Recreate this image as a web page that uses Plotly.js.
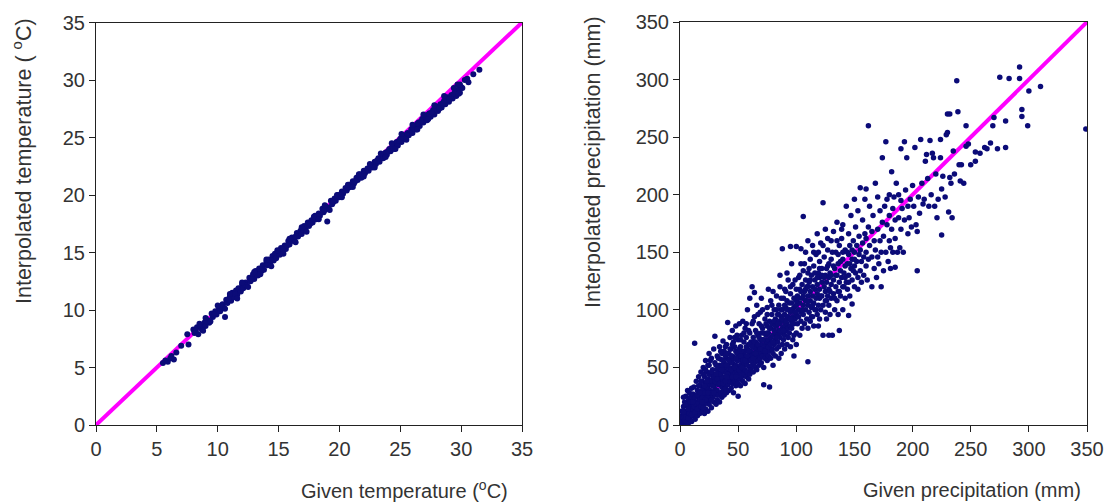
<!DOCTYPE html>
<html>
<head>
<meta charset="utf-8">
<script src="https://cdn.plot.ly/plotly-3.0.1.min.js"></script>
<style>html,body{margin:0;padding:0;background:#fff;}#chart{width:1109px;height:503px;}</style>
</head>
<body>
<div id="chart"></div>
<script>
// Axis ticks
const tempTicks = [0, 5, 10, 15, 20, 25, 30, 35];
const precipTicks = [0, 50, 100, 150, 200, 250, 300, 350];
const oneToOneTemp = [0, 35];
const oneToOnePrecip = [0, 350];

// Temperature: [given, interpolated] (°C)
const tempPairs = [
[5.5,5.4],[5.7,5.6],[5.9,5.5],[6.1,5.8],[6.2,6.0],[6.4,5.7],[6.6,6.3],[7.0,6.9],[7.5,7.9],[7.6,7.0],
[8.0,8.3],[8.1,8.0],[8.3,8.5],[8.4,7.9],[8.6,8.6],[8.7,8.3],[8.9,8.9],[9.0,8.6],[9.2,9.1],[9.3,8.9],
[9.5,9.7],[9.6,9.4],[9.8,9.9],[9.9,9.6],[10.1,10.2],[10.2,9.9],[10.4,10.5],[10.5,10.2],[10.6,9.4],[10.7,10.9],
[10.8,10.6],[11.0,11.2],[11.1,10.8],[11.2,11.5],[11.3,11.1],[11.5,11.7],[11.6,11.3],[11.7,11.9],[11.9,11.6],[12.0,12.2],
[12.1,11.9],[12.3,12.4],[12.4,12.1],[12.6,12.8],[12.7,12.5],[12.9,13.1],[13.0,12.7],[13.1,13.4],[13.3,13.0],[13.4,13.6],
[13.6,13.4],[13.7,13.9],[13.8,13.5],[14.0,14.2],[14.1,13.9],[14.2,14.4],[14.3,14.0],[14.5,14.7],[14.6,14.3],[14.7,14.9],
[14.8,14.5],[15.0,15.1],[15.1,14.8],[15.2,15.4],[15.4,15.2],[15.5,15.6],[15.6,15.3],[15.8,16.0],[15.9,15.7],[16.1,16.3],
[16.2,16.0],[16.3,16.1],[16.5,16.7],[16.6,16.4],[16.8,16.9],[16.9,16.6],[17.1,17.3],[17.2,17.0],[17.4,17.6],[17.5,17.3],
[17.7,17.8],[17.8,17.6],[18.0,18.2],[18.1,17.9],[18.3,18.4],[18.4,18.2],[18.6,18.8],[18.7,18.5],[18.9,19.0],[19.0,17.7],
[19.1,18.9],[19.3,19.5],[19.4,19.2],[19.6,19.7],[19.7,19.5],[19.9,20.0],[20.0,19.8],[20.2,20.3],[20.3,20.1],[20.5,20.6],
[20.6,20.4],[20.8,20.9],[20.9,20.7],[21.1,21.2],[21.2,21.0],[21.4,21.5],[21.5,21.3],[21.7,21.8],[21.8,21.5],[22.0,22.1],
[22.1,21.9],[22.3,22.3],[22.4,22.1],[22.6,22.6],[22.7,22.4],[22.9,22.9],[23.0,22.7],[23.2,23.2],[23.3,22.9],[23.5,23.5],
[23.6,23.2],[23.8,23.7],[23.9,23.5],[24.1,24.0],[24.2,23.8],[24.4,24.3],[24.5,24.0],[24.7,24.6],[24.8,24.3],[25.0,24.9],
[25.1,24.6],[25.3,25.2],[25.4,24.9],[25.6,25.4],[25.7,25.2],[25.9,25.7],[26.0,25.4],[26.2,26.0],[26.3,25.7],[26.5,26.3],
[26.6,26.0],[26.8,26.6],[26.9,26.3],[27.1,26.8],[27.2,26.5],[27.4,27.1],[27.5,26.8],[27.7,27.4],[27.8,27.0],[28.0,27.7],
[28.1,27.3],[28.3,27.9],[28.4,27.6],[28.6,28.2],[28.7,27.9],[28.9,28.5],[29.0,28.1],[29.2,28.7],[29.3,28.4],[29.5,29.0],
[29.6,28.6],[29.8,29.2],[29.9,28.9],[30.0,29.4],[30.3,30.0],[30.6,29.8],[31.0,30.5],[31.5,30.9],[30.5,30.1],[29.7,29.6],
[8.2,8.2],[9.1,9.0],[9.7,9.6],[10.3,10.3],[10.9,10.9],[11.4,11.4],[12.2,12.2],[12.8,12.7],[13.5,13.5],[14.4,14.3],
[15.3,15.3],[15.7,15.6],[16.4,16.4],[17.0,17.0],[17.6,17.5],[18.2,18.1],[18.8,18.7],[19.5,19.4],[20.1,20.0],[20.7,20.6],
[21.3,21.2],[21.9,21.8],[22.5,22.4],[23.1,23.0],[23.7,23.5],[24.3,24.1],[24.9,24.7],[25.5,25.2],[26.1,25.8],[26.7,26.4],
[27.3,27.0],[27.9,27.5],[28.5,28.0],[29.1,28.5],[29.4,28.8],[28.8,28.3],[27.6,27.2],[26.4,26.2],[25.2,25.0],[24.0,23.8],
[9.0,9.3],[9.4,9.0],[10.0,10.4],[10.6,10.1],[11.0,11.4],[11.6,11.0],[12.0,12.4],[12.5,12.0],[13.0,13.3],[13.5,13.1],
[14.0,14.4],[14.4,13.8],[14.9,15.2],[15.4,14.9],[15.9,16.2],[16.4,15.9],[16.9,17.2],[17.3,16.8],[17.9,18.1],[18.3,17.9],
[18.8,19.1],[19.2,18.7],[19.8,20.0],[20.2,19.8],[20.7,20.9],[21.1,20.7],[21.6,21.8],[22.0,21.6],[22.5,22.7],[22.9,22.4],
[23.4,23.6],[23.8,23.3],[24.3,24.5],[24.6,24.0],[25.1,25.3],[25.5,24.8],[26.0,26.1],[26.4,25.7],[26.9,27.0],[27.3,26.6],
[27.8,27.8],[28.2,27.5],[28.6,28.6],[29.0,28.3],[29.4,29.3],[29.8,28.8],[30.1,29.3],[29.9,29.6],[8.5,8.8],[8.8,8.2]
];

// Precipitation: [given, interpolated] (mm)
const precipPairs = [
[0,0],[0.5,2],[1,0],[1,4],[1.5,8],[2,1],[2,12],[2.5,5],[3,3],[3,16],
[3.5,9],[4,0],[4,20],[4.5,6],[5,2],[5,12],[5,25],[5.5,8],[6,4],[6,17],
[6.5,30],[7,1],[7,10],[7.5,22],[8,5],[8,14],[8,28],[8.5,18],[9,7],[9,24],
[9.5,12],[10,3],[10,16],[10,32],[10.5,20],[11,8],[11,27],[1.5,12],[3,24],[4,9],
[2,7],[6,9],[7,18],[12,10],[12,22],[12,33],[12.6,71],[13,15],[13,5],[14,26],
[14,12],[14,38],[15,8],[15,20],[15,30],[16,14],[16,24],[16,42],[17,10],[17,18],
[17,34],[18,22],[18,28],[18,46],[19,12],[19,16],[19,38],[20,20],[20,26],[20,32],
[20,50],[21,10],[21,24],[21,42],[22,14],[22,30],[22,36],[22,56],[23,20],[23,27],
[23,46],[24,12],[24,33],[24,40],[25,18],[25,25],[25,52],[25,62],[26,22],[26,30],
[26,44],[27,15],[27,36],[27,58],[28,24],[28,28],[28,40],[28,48],[29,20],[29,34],
[29,66],[30,26],[30,31],[30,44],[30,54],[30,77],[19,30],[24,24],[27,28],[21,18],
[31,18],[31,38],[32,22],[32,30],[32,48],[32,60],[33,26],[33,35],[33,42],[34,20],
[34,52],[34,68],[35,28],[35,38],[35,45],[35,57],[36,24],[36,33],[36,62],[37,30],
[37,40],[37,48],[37,73],[38,26],[38,36],[38,54],[38,64],[39,32],[39,42],[39,50],
[40,28],[40,38],[40,46],[40,58],[40,70],[41,35],[41,89],[41,52],[42,30],[42,44],
[42,62],[43,38],[43,48],[43,56],[43,76],[44,32],[44,42],[44,66],[45,36],[45,46],
[45,54],[45,60],[45,82],[46,28],[46,40],[46,50],[46,72],[47,38],[47,44],[47,58],
[48,34],[48,48],[48,52],[48,64],[48,86],[49,40],[49,46],[49,56],[50,25],[50,36],
[50,44],[50,50],[50,62],[50,74],[44,54],[42,50],[36,42],[34,44],[39,60],[47,68],
[51,40],[51,58],[51,88],[52,34],[52,46],[52,52],[52,68],[53,42],[53,56],[53,78],
[54,38],[54,48],[54,62],[54,90],[55,44],[55,52],[55,58],[55,72],[56,36],[56,48],
[56,64],[56,84],[57,42],[57,54],[57,60],[57,76],[58,46],[58,52],[58,66],[58,100],
[59,40],[59,56],[59,70],[60,44],[60,50],[60,58],[60,62],[60,80],[60,110],[61,48],
[61,64],[61,72],[62,52],[62,60],[62,120],[62,88],[63,46],[63,68],[63,76],[64,54],
[64,62],[64,115],[64,94],[65,50],[65,58],[65,66],[65,72],[65,82],[66,48],[66,60],
[66,70],[66,104],[67,56],[67,64],[67,78],[68,52],[68,62],[68,68],[68,88],[69,58],
[69,74],[69,98],[70,54],[70,62],[70,70],[70,80],[70,110],[71,60],[71,66],[71,84],
[72,50],[72,64],[72,74],[72,35],[73,58],[73,70],[73,92],[74,62],[74,68],[74,78],
[75,56],[75,66],[75,72],[75,86],[75,102],[77,33],[76,60],[76,74],[76,80],[76,118],
[77,64],[77,70],[77,90],[78,58],[78,76],[78,84],[78,108],[79,66],[79,72],[79,96],
[80,52],[80,62],[80,78],[80,88],[80,116],[81,70],[81,82],[81,100],[82,60],[82,74],
[82,80],[82,92],[83,66],[83,86],[83,112],[84,72],[84,78],[84,96],[85,58],[85,68],
[85,82],[85,90],[85,104],[86,76],[86,88],[86,120],[87,62],[87,80],[87,94],[88,70],
[88,84],[88,100],[88,153],[89,74],[89,90],[89,110],[90,66],[90,78],[90,86],[90,96],
[90,118],[91,82],[91,102],[92,70],[92,88],[92,94],[92,108],[93,76],[93,84],[93,126],
[94,80],[94,92],[94,100],[95,68],[95,86],[95,98],[95,114],[95,155],[96,84],[96,90],
[96,106],[97,74],[97,94],[97,122],[98,78],[98,88],[98,102],[99,92],[99,110],[100,80],
[100,96],[100,104],[100,118],[100,155],[104,153],[100,70],[98,60],[96,140],[92,132],[86,130],
[101,88],[101,112],[102,94],[102,100],[102,128],[103,78],[103,106],[103,118],[104,90],[104,98],
[104,140],[105,84],[105,110],[105,122],[106,96],[106,104],[106,181],[106,134],[107,88],[107,116],
[108,100],[108,108],[108,126],[108,150],[109,92],[109,120],[110,55],[110,84],[110,104],[110,112],
[110,132],[110,160],[111,98],[111,124],[112,90],[112,108],[112,116],[112,144],[113,102],[113,130],
[114,94],[114,112],[114,120],[114,156],[115,86],[115,106],[115,138],[116,100],[116,118],[116,126],
[117,110],[117,148],[118,96],[118,114],[118,122],[118,166],[119,104],[119,132],[120,92],[120,110],
[120,118],[120,128],[120,142],[121,100],[121,158],[122,112],[122,124],[122,136],[123,78],[123,193],
[123,104],[124,120],[124,146],[125,98],[125,116],[125,130],[125,170],[126,108],[126,124],[127,112],
[127,138],[127,152],[128,78],[128,104],[128,118],[128,128],[129,96],[129,132],[130,110],[130,122],
[130,144],[130,160],[131,78],[132,114],[132,126],[132,168],[133,100],[133,136],[134,120],[134,150],
[135,108],[135,130],[135,176],[136,116],[136,140],[137,82],[137,124],[137,156],[138,112],[138,134],
[139,128],[139,162],[140,100],[140,120],[140,144],[140,174],[141,132],[142,110],[142,138],[142,152],
[143,124],[143,190],[144,118],[144,140],[145,95],[145,130],[145,148],[145,166],[146,112],[146,156],
[147,136],[147,182],[148,105],[148,126],[148,144],[149,160],[150,120],[150,138],[150,150],[150,196],
[151,132],[151,172],[152,142],[152,156],[153,118],[153,128],[153,186],[154,148],[154,164],[155,134],
[155,152],[155,206],[156,124],[156,142],[157,158],[157,178],[158,130],[158,146],[159,166],[159,196],
[160,138],[160,150],[160,162],[160,205],[161,126],[162,260],[162,144],[162,172],[163,156],[163,190],
[165,120],[165,146],[165,168],[166,182],[167,136],[167,160],[168,152],[168,210],[169,128],[170,146],
[170,170],[170,198],[171,140],[172,160],[172,186],[173,120],[173,150],[174,176],[174,232],[175,134],
[175,164],[176,190],[177,150],[177,246],[178,174],[178,196],[179,142],[180,160],[180,182],[180,200],
[181,136],[181,154],[182,170],[182,220],[183,150],[183,188],[184,198],[185,162],[185,178],[185,137],
[186,210],[187,150],[188,180],[188,200],[189,154],[190,170],[190,195],[190,240],[191,188],[192,150],
[193,246],[193,178],[194,204],[195,232],[196,166],[196,190],[197,180],[198,196],[199,172],[200,208],
[201,190],[202,241],[203,174],[204,168],[204,134],[205,198],[206,184],[207,248],[208,210],[209,192],
[210,196],[211,229],[212,235],[213,214],[214,190],[215,247],[216,200],[217,236],[218,232],[219,190],
[220,218],[221,180],[222,196],[224,248],[224,232],[225,165],[225,205],[226,216],[228,198],[229,252],
[230,270],[230,254],[231,185],[232,270],[232,215],[233,210],[234,180],[235,238],[236,218],[238,299],
[239,272],[240,226],[241,212],[242,226],[244,210],[246,242],[246,260],[248,244],[250,226],[254,237],
[254,229],[258,236],[262,241],[264,240],[267,245],[269,260],[270,267],[273,240],[275,302],[280,241],
[280,264],[283,301],[292,301],[292,311],[294,274],[294,268],[299,260],[300,290],[310,294],[349,257],
[1,2],[2,3],[3,6],[4,4],[5,7],[6,12],[7,6],[8,10],[9,15],[10,9],
[11,14],[12,16],[13,11],[14,18],[15,14],[16,19],[17,22],[18,16],[19,24],[20,15],
[21,28],[22,22],[23,33],[24,28],[25,36],[26,38],[27,22],[28,34],[29,42],[30,38],
[3,11],[5,18],[7,14],[9,20],[11,20],[13,24],[15,26],[17,28],[19,20],[21,34],
[23,38],[25,44],[27,46],[29,28],[16,34],[18,38],[20,44],[22,48],[24,52],[26,56],
[31,44],[32,40],[33,50],[34,36],[35,50],[36,52],[37,36],[38,46],[39,38],[40,52],
[41,44],[42,56],[43,42],[44,48],[45,42],[46,58],[47,50],[48,42],[49,62],[50,56],
[51,48],[52,60],[53,50],[54,56],[55,64],[56,56],[57,68],[58,60],[59,64],[60,70],
[31,52],[33,58],[35,64],[37,56],[39,68],[41,62],[43,66],[45,70],[47,76],[49,78],
[53,64],[55,80],[57,88],[59,82],[51,66],[36,48],[40,42],[44,60],[48,58],[52,74],
[61,56],[62,68],[63,58],[64,72],[65,62],[66,80],[67,70],[68,76],[69,66],[70,86],
[71,74],[72,80],[73,64],[74,88],[75,80],[76,68],[77,84],[78,70],[79,88],[80,72],
[81,90],[82,86],[83,76],[84,88],[85,96],[86,82],[87,100],[88,92],[89,82],[90,104],
[91,90],[92,100],[93,94],[94,106],[95,92],[96,100],[97,88],[98,110],[99,98],[100,108],
[63,90],[67,96],[71,100],[75,96],[79,104],[83,100],[87,110],[91,116],[95,120],[99,126],
[102,110],[104,116],[106,112],[108,118],[110,120],[112,126],[114,104],[116,132],[118,128],[120,136],
[122,130],[124,128],[126,136],[128,140],[130,130],[132,138],[134,130],[136,148],[138,142],[140,150],
[142,128],[144,150],[146,140],[148,152],[150,144],[103,130],[107,140],[111,136],[115,150],[119,150],
[123,156],[127,162],[131,150],[135,160],[139,170],[105,100],[109,108],[113,94],[117,100],[121,112],
[125,108],[129,116],[133,110],[137,116],[141,120],[145,124],[149,134],[126,92],[119,86],[136,96]
];

const givenTemp = tempPairs.map(p => p[0]);
const interpTemp = tempPairs.map(p => p[1]);
const givenPrecip = precipPairs.map(p => p[0]);
const interpPrecip = precipPairs.map(p => p[1]);

const FONT = 'Liberation Sans, Arial, sans-serif';
const TXT = '#333333';
const NAVY = '#0b0b78';
const lineStyle = {color: '#ff00ff', width: 4};

const traces = [
  {x: oneToOneTemp, y: oneToOneTemp, xaxis: 'x', yaxis: 'y', mode: 'lines', line: lineStyle, hoverinfo: 'skip'},
  {x: givenTemp, y: interpTemp, xaxis: 'x', yaxis: 'y', mode: 'markers',
   marker: {color: NAVY, size: 6, symbol: 'circle', line: {width: 0}}},
  {x: oneToOnePrecip, y: oneToOnePrecip, xaxis: 'x2', yaxis: 'y2', mode: 'lines', line: lineStyle, hoverinfo: 'skip'},
  {x: givenPrecip, y: interpPrecip, xaxis: 'x2', yaxis: 'y2', mode: 'markers',
   marker: {color: NAVY, size: 5.5, symbol: 'circle', line: {width: 0}}}
];

function ax(domain, range, ticks, anchor) {
  return {
    domain: domain, range: range, anchor: anchor,
    tickmode: 'array', tickvals: ticks, ticktext: ticks.map(String),
    showgrid: false, zeroline: false,
    showline: true, mirror: true, linecolor: '#222222', linewidth: 1,
    ticks: 'outside', ticklen: 6, tickwidth: 1, tickcolor: '#222222',
    tickfont: {family: FONT, size: 20, color: TXT},
    fixedrange: true
  };
}

const W = 1109, H = 503;
const px = v => v / W;
const py = v => 1 - v / H;

const layout = {
  width: W, height: H,
  margin: {l: 0, r: 0, t: 0, b: 0},
  paper_bgcolor: '#ffffff', plot_bgcolor: '#ffffff',
  showlegend: false,
  xaxis: ax([px(96), px(522)], [0, 35], tempTicks, 'y'),
  yaxis: ax([py(425), py(22.5)], [0, 35], tempTicks, 'x'),
  xaxis2: ax([px(680), px(1087)], [0, 350], precipTicks, 'y2'),
  yaxis2: ax([py(425), py(22)], [0, 350], precipTicks, 'x2'),
  annotations: [
    {text: 'Given temperature (<sup>o</sup>C)', xref: 'paper', yref: 'paper', x: px(510), y: py(489),
     xanchor: 'right', yanchor: 'middle', showarrow: false, font: {family: FONT, size: 20, color: TXT}},
    {text: 'Given precipitation (mm)', xref: 'paper', yref: 'paper', x: px(1083), y: py(490),
     xanchor: 'right', yanchor: 'middle', showarrow: false, font: {family: FONT, size: 20, color: TXT}},
    {text: 'Interpolated temperature ( <sup>o</sup>C)', xref: 'paper', yref: 'paper', x: px(22), y: py(161),
     xanchor: 'center', yanchor: 'middle', textangle: -90, showarrow: false, font: {family: FONT, size: 21.5, color: TXT}},
    {text: 'Interpolated precipitation (mm)', xref: 'paper', yref: 'paper', x: px(593), y: py(162),
     xanchor: 'center', yanchor: 'middle', textangle: -90, showarrow: false, font: {family: FONT, size: 21.5, color: TXT}}
  ]
};

Plotly.newPlot('chart', traces, layout, {displayModeBar: false, staticPlot: true});
</script>
</body>
</html>
